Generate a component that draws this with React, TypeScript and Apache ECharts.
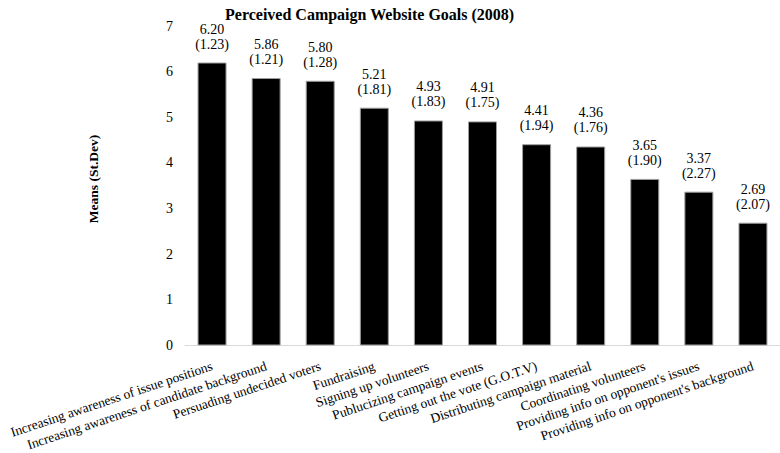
import React, { useEffect, useRef } from "react";
import * as echarts from "echarts";

const categories = [
  "Increasing awareness of issue positions",
  "Increasing awareness of candidate background",
  "Persuading undecided voters",
  "Fundraising",
  "Signing up volunteers",
  "Publucizing campaign events",
  "Getting out the vote (G.O.T.V)",
  "Distributing campaign material",
  "Coordinating volunteers",
  "Providing info on opponent's issues",
  "Providing info on opponent's background",
];
const means = [6.2, 5.86, 5.8, 5.21, 4.93, 4.91, 4.41, 4.36, 3.65, 3.37, 2.69];
const stdevs = [1.23, 1.21, 1.28, 1.81, 1.83, 1.75, 1.94, 1.76, 1.9, 2.27, 2.07];
const yTicks = [0, 1, 2, 3, 4, 5, 6, 7];

const FONT = "'Liberation Serif', 'Times New Roman', serif";

export default function App() {
  const ref = useRef<HTMLDivElement>(null);
  useEffect(() => {
    if (!ref.current) return;
    const chart = echarts.init(ref.current, null, { renderer: "svg" });
    chart.setOption({
      animation: false,
      backgroundColor: "#ffffff",
      title: {
        text: "Perceived Campaign Website Goals (2008)",
        left: 220,
        top: 1,
        textStyle: { fontFamily: FONT, fontSize: 16, fontWeight: "bold", color: "#000" },
      },
      graphic: [
        {
          type: "text",
          x: 93,
          y: 179,
          rotation: Math.PI / 2,
          style: {
            text: "Means (St.Dev)",
            fontFamily: FONT,
            fontSize: 13.5,
            fontWeight: "bold",
            fill: "#000",
            align: "center",
            verticalAlign: "middle",
          },
        },
      ],
      grid: { left: 185, top: 26, bottom: 107, width: 606 },
      xAxis: {
        type: "category",
        data: categories,
        axisLine: { show: true, lineStyle: { color: "#d9d9d9", width: 1 } },
        axisTick: { show: false },
        axisLabel: {
          interval: 0,
          rotate: 18.5,
          margin: 20,
          fontFamily: FONT,
          fontSize: 13.5,
          color: "#000",
        },
      },
      yAxis: {
        type: "value",
        min: yTicks[0],
        max: yTicks[yTicks.length - 1],
        interval: 1,
        axisLine: { show: false },
        axisTick: { show: false },
        splitLine: { show: false },
        axisLabel: { margin: 12, fontFamily: FONT, fontSize: 14, color: "#000" },
      },
      series: [
        {
          type: "bar",
          data: means,
          barWidth: 29,
          itemStyle: { color: "#000", borderColor: "#9e9e9e", borderWidth: 1 },
          label: {
            show: true,
            position: "top",
            distance: 11,
            fontFamily: FONT,
            fontSize: 14,
            lineHeight: 15,
            color: "#000",
            formatter: (p: any) =>
              `${means[p.dataIndex].toFixed(2)}\n(${stdevs[p.dataIndex].toFixed(2)})`,
          },
        },
      ],
    });
    return () => chart.dispose();
  }, []);
  return (
    <div
      ref={ref}
      style={{ position: "fixed", left: 0, top: 0, width: 780, height: 453, background: "#fff" }}
    />
  );
}
